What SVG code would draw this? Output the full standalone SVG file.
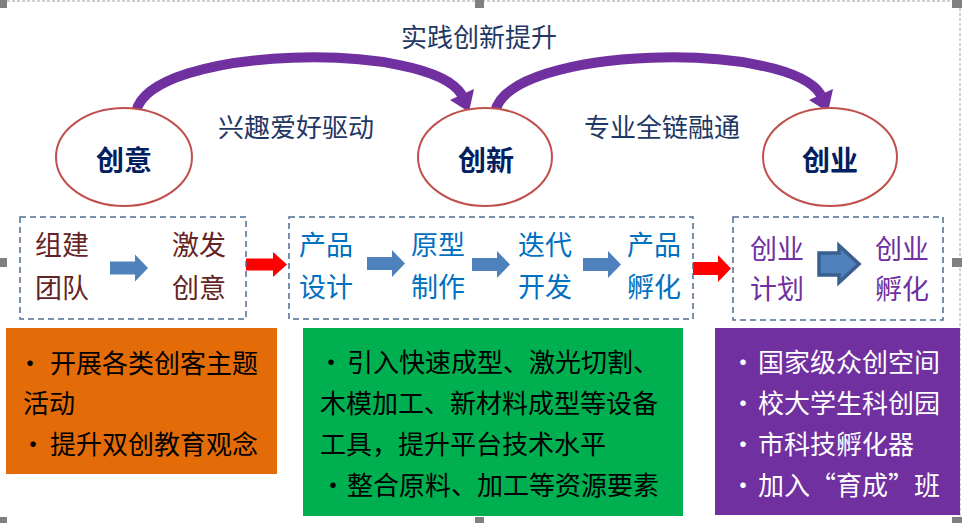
<svg xmlns="http://www.w3.org/2000/svg" width="962" height="523" viewBox="0 0 962 523">
<defs>
<style>
text{font-family:"Noto Sans CJK SC","Noto Sans",sans-serif;}
.lbl{font-size:26px;fill:#1F3864;}
.oval{fill:#fff;stroke:#C0504D;stroke-width:2;}
.otx{font-size:28px;font-weight:bold;fill:#002060;text-anchor:middle;}
.dash{fill:none;stroke:#4F6D94;stroke-width:1.5;stroke-dasharray:6 4;}
.rt{font-size:27px;text-anchor:middle;}
.bt{font-size:26px;}
.curve{fill:none;stroke:#7030A0;stroke-width:10;}
.ah{fill:#7030A0;}
.blue{fill:#4F81BD;}
.red{fill:#FF0000;}
.hd{fill:#808080;}
</style>
<path id="blk" d="M0,-6.5 H25 V-13.5 L38,0 L25,13.5 V6.5 H0 Z"/>
</defs>

<!-- selection frame artifacts -->
<g id="frame">
<line x1="7" y1="1" x2="953" y2="1" stroke="#A0A0A0" stroke-width="1" stroke-dasharray="3 2"/>
<line x1="960" y1="8" x2="960" y2="517" stroke="#A0A0A0" stroke-width="1" stroke-dasharray="3 2"/>
<rect class="hd" x="0" y="0" width="7" height="8"/>
<rect class="hd" x="475" y="0" width="9" height="8"/>
<rect class="hd" x="952" y="0" width="10" height="8"/>
<rect class="hd" x="0" y="258" width="7" height="9"/>
<rect class="hd" x="952" y="258" width="10" height="9"/>
<rect class="hd" x="0" y="517" width="7" height="6"/>
<rect class="hd" x="475" y="517" width="9" height="6"/>
<rect class="hd" x="952" y="517" width="10" height="6"/>
</g>

<g id="connectors">
<path class="curve" d="M136,112 C150,45 430,40 462,95"/>
<polygon class="ah" points="469,112 450,100 474,89"/>
<path class="curve" d="M495,112 C509,45 789,40 821,95"/>
<polygon class="ah" points="828,112 809,100 833,89"/>
<use href="#blk" class="blue" x="110" y="268"/>
<use href="#blk" class="red" transform="translate(246,264.5) scale(1.08,0.93)"/>
<use href="#blk" class="blue" x="367" y="263.5"/>
<use href="#blk" class="blue" x="472" y="264.5"/>
<use href="#blk" class="blue" x="583" y="264.5"/>
<use href="#blk" class="red" transform="translate(693,268.5)"/>
<path d="M819,253 H839 V245.5 L859,264 L839,282.5 V275 H819 Z" fill="#4F81BD" stroke="#3A5F8E" stroke-width="3.5" stroke-linejoin="miter"/>
</g>

<g id="labels">
<text class="lbl" x="479" y="47" text-anchor="middle">实践创新提升</text>
<text class="lbl" x="296" y="137" text-anchor="middle">兴趣爱好驱动</text>
<text class="lbl" x="662" y="137" text-anchor="middle">专业全链融通</text>
</g>

<g id="n-chuangyi">
<ellipse class="oval" cx="124" cy="157" rx="68" ry="49"/>
<text class="otx" x="124" y="171">创意</text>
</g>
<g id="n-chuangxin">
<ellipse class="oval" cx="485" cy="157" rx="67" ry="49"/>
<text class="otx" x="486" y="171">创新</text>
</g>
<g id="n-chuangye">
<ellipse class="oval" cx="830" cy="157" rx="67" ry="49"/>
<text class="otx" x="830" y="171">创业</text>
</g>

<g id="box1">
<rect class="dash" x="20" y="217" width="226" height="102"/>
<text class="rt" fill="#632523"><tspan x="62" y="255">组建</tspan><tspan x="62" y="298">团队</tspan></text>
<text class="rt" fill="#632523"><tspan x="199" y="255">激发</tspan><tspan x="199" y="298">创意</tspan></text>
</g>

<g id="box2">
<rect class="dash" x="289" y="217" width="404" height="102"/>
<text class="rt" fill="#0070C0"><tspan x="326" y="255">产品</tspan><tspan x="326" y="297">设计</tspan></text>
<text class="rt" fill="#0070C0"><tspan x="438" y="255">原型</tspan><tspan x="438" y="297">制作</tspan></text>
<text class="rt" fill="#0070C0"><tspan x="545" y="255">迭代</tspan><tspan x="545" y="297">开发</tspan></text>
<text class="rt" fill="#0070C0"><tspan x="654" y="255">产品</tspan><tspan x="654" y="297">孵化</tspan></text>
</g>

<g id="box3">
<rect class="dash" x="733" y="217" width="210" height="103"/>
<text class="rt" fill="#7030A0"><tspan x="777" y="259">创业</tspan><tspan x="777" y="299">计划</tspan></text>
<text class="rt" fill="#7030A0"><tspan x="902" y="259">创业</tspan><tspan x="902" y="299">孵化</tspan></text>
</g>

<g id="panel-orange">
<rect x="6" y="328" width="271" height="146" fill="#E36C09"/>
<text class="bt" fill="#000"><tspan x="17" y="373">·</tspan><tspan x="50" y="373">开展各类创客主题</tspan><tspan x="23" y="413">活动</tspan><tspan x="20" y="454">·</tspan><tspan x="50" y="454">提升双创教育观念</tspan></text>
</g>

<g id="panel-green">
<rect x="303" y="328" width="380" height="188" fill="#00B050"/>
<text class="bt" fill="#000"><tspan x="318" y="372">·</tspan><tspan x="347" y="372">引入快速成型、激光切割、</tspan><tspan x="320" y="413">木模加工、新材料成型等设备</tspan><tspan x="320" y="454">工具，提升平台技术水平</tspan><tspan x="320" y="495">·</tspan><tspan x="347" y="495">整合原料、加工等资源要素</tspan></text>
</g>

<g id="panel-purple">
<rect x="715" y="328" width="245" height="187" fill="#7030A0"/>
<text class="bt" fill="#fff"><tspan x="730" y="372">·</tspan><tspan x="758" y="372">国家级众创空间</tspan><tspan x="730" y="413">·</tspan><tspan x="758" y="413">校大学生科创园</tspan><tspan x="730" y="454">·</tspan><tspan x="758" y="454">市科技孵化器</tspan><tspan x="730" y="495">·</tspan><tspan x="758" y="495">加入“育成”班</tspan></text>
</g>
</svg>
